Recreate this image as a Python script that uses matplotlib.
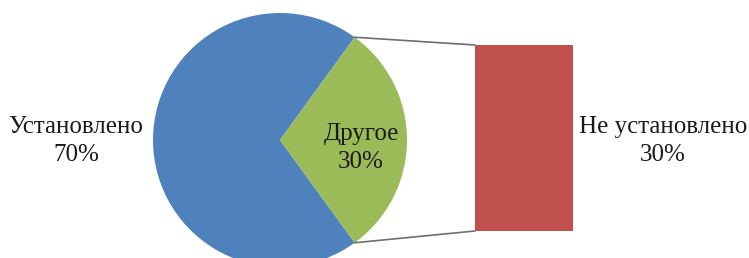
import matplotlib
matplotlib.use("Agg")
import matplotlib.pyplot as plt
import numpy as np
from matplotlib.patches import ConnectionPatch

# данные
pie_labels = ["Установлено", "Другое"]
pie_values = [70, 30]
pie_colors = ["#4F81BD", "#9BBB59"]

bar_labels = ["Не установлено"]
bar_values = [30]
bar_colors = ["#C0504D"]

plt.rcParams["font.family"] = ["Liberation Serif", "DejaVu Serif"]

W, H = 749, 258
fig = plt.figure(figsize=(W / 100, H / 100), dpi=100)
ax = fig.add_axes([0, 0, 1, 1])

# пирог: "Другое" центрировано на 0°
cx, cy, r = 280, H - 140, 127
other_share = pie_values[1] / sum(pie_values)
half = 180 * other_share
ax.pie(pie_values, colors=pie_colors, startangle=half, counterclock=True,
       center=(cx, cy), radius=r, wedgeprops=dict(linewidth=0))
ax.set_xlim(0, W)
ax.set_ylim(0, H)
ax.set_aspect("equal")
ax.axis("off")

# столбец
x0, x1, ytop, ybot = 475, 573, 45, 231
ax_bar = fig.add_axes([x0 / W, (H - ybot) / H, (x1 - x0) / W, (ybot - ytop) / H])
ax_bar.bar([0], bar_values, width=1.0, color=bar_colors, linewidth=0)
ax_bar.set_xlim(-0.5, 0.5)
ax_bar.set_ylim(0, sum(bar_values))
ax_bar.axis("off")

# соединительные линии
t = np.deg2rad(half)
for sgn, yb in [(1, sum(bar_values)), (-1, 0)]:
    xa = cx + r * np.cos(t)
    ya = cy + sgn * r * np.sin(t)
    con = ConnectionPatch(xyA=(xa, ya), coordsA=ax.transData,
                          xyB=(-0.5, yb), coordsB=ax_bar.transData,
                          color="#6E6E6E", linewidth=1.2)
    fig.add_artist(con)

fs = 18
tc = "#1a1a1a"
ls = 1.32
ax.text(76, H - 141, f"{pie_labels[0]}\n{pie_values[0]}%", ha="center", va="center",
        fontsize=fs, color=tc, linespacing=ls)
ax.text(361, H - 148, f"{pie_labels[1]}\n{pie_values[1]}%", ha="center", va="center",
        fontsize=fs, color=tc, linespacing=ls)
ax.text(663, H - 141, f"{bar_labels[0]}\n{bar_values[0]}%", ha="center", va="center",
        fontsize=fs, color=tc, linespacing=ls)

fig.savefig("out.png", dpi=100)
